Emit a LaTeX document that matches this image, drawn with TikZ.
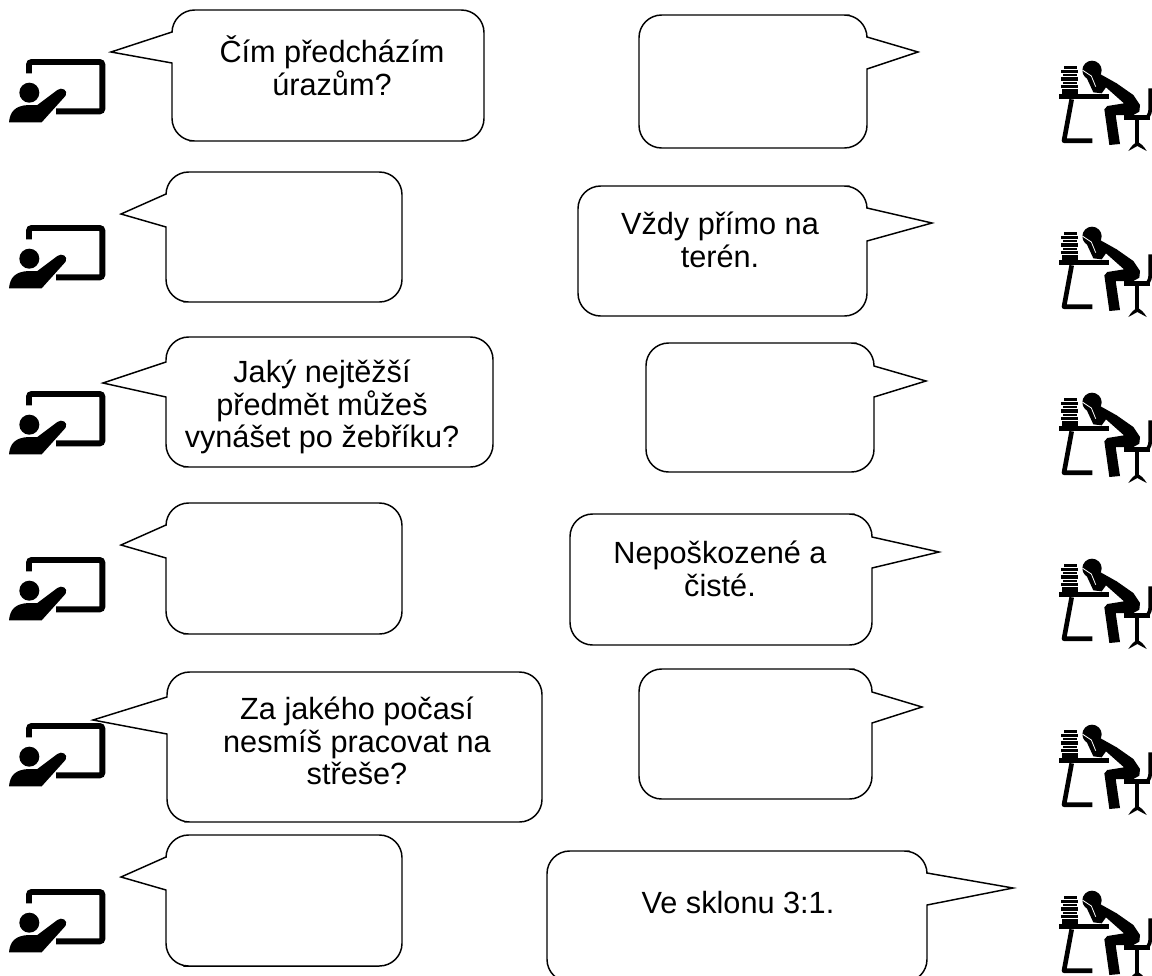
\documentclass[tikz,border=0pt]{standalone}
\usepackage{fontspec}
\setmainfont{Liberation Sans}
\tikzset{
  x=0.75pt,y=-0.75pt,
  bubble/.style={draw=black,line width=1.1pt,fill=white,line join=miter},
  bubtext/.style={align=center,font=\fontsize{23}{24.4}\selectfont,inner sep=0pt},
  teacher/.pic={
    \begin{scope}[x=0.25pt,y=-0.25pt]
      \draw[line width=4.4pt,rounded corners=2pt] (87,100) -- (87,66) -- (307,66) -- (307,214) -- (168,214);
      \fill (88,158) circle[radius=30];
      \fill (27,247) .. controls (30,215) and (45,197) .. (85,195) -- (112,195) -- (172,150)
        .. controls (185,140) and (205,150) .. (197,167) -- (125,247) -- cycle;
    \end{scope}
  },
  student/.pic={
    \begin{scope}[x=0.25pt,y=-0.25pt]
      \fill (27,133) rectangle (178,148);
      \draw[line width=3.5pt,line join=round] (65,148) -- (42,272) -- (127,272);
      \fill (42,48) rectangle (82,56);
      \fill (34,60) rectangle (85,68);
      \fill (38,71) rectangle (80,79);
      \fill (34,82) rectangle (85,92);
      \fill (38,95) rectangle (82,103);
      \fill (34,106) rectangle (85,114);
      \fill (37,117) rectangle (85,133);
      \fill (126,61) circle[radius=29];
      \fill (150,72) -- (200,100) -- (250,135) -- (270,165) -- (268,185) -- (250,195) -- (197,195)
        -- (210,282) -- (178,285) -- (163,178) -- (172,168) -- (222,160) -- (168,112) -- (155,130)
        -- (130,127) -- (106,75) -- cycle;
      \draw[white,line width=.6pt] (97,60) -- (124,78) -- (137,110);
      \fill (222,194) rectangle (300,210);
      \draw[line width=2.8pt,rounded corners=3pt] (301,115) -- (301,190) -- (290,205);
      \draw[line width=3.2pt] (262,205) -- (262,280);
      \fill (235,303) .. controls (245,285) and (255,280) .. (262,275) .. controls (270,280) and (280,285) .. (290,303) -- (262,288) -- cycle;
    \end{scope}
  }
}
% \lbub{x1}{y1}{x2}{y2}{tip}{att1}{att2}
\newcommand{\lbub}[7]{%
  \draw[bubble,rounded corners=17pt] ({#1+40},#4) -- (#3,#4) -- (#3,#2) -- (#1,#2) [sharp corners] -- (#1,#6) -- (#5) -- (#1,#7) [rounded corners=17pt] -- (#1,#4) -- cycle;
}
\newcommand{\rbub}[7]{%
  \draw[bubble,rounded corners=17pt] ({#3-40},#2) -- (#1,#2) -- (#1,#4) -- (#3,#4) [sharp corners] -- (#3,#7) -- (#5) -- (#3,#6) [rounded corners=17pt] -- (#3,#2) -- cycle;
}
\begin{document}
\begin{tikzpicture}
\useasboundingbox (0,0) rectangle (1152,975);
\clip (0,0) rectangle (1152,975);
\fill[white] (0,0) rectangle (1152,975);
\foreach \yy in {40,206,372,538,704,870}{\pic at (0,\yy) {teacher};}
\foreach \yy in {50,216,382,548,714,880}{\pic at (1050,\yy) {student};}
\coordinate (t1) at (111,52); \coordinate (t2) at (121,214); \coordinate (t3) at (103,383);
\coordinate (t4) at (121,545); \coordinate (t5) at (93,720); \coordinate (t6) at (121,877);
\coordinate (r1) at (918,52); \coordinate (r2) at (932,223); \coordinate (r3) at (926,381);
\coordinate (r4) at (939,552); \coordinate (r5) at (922,707); \coordinate (r6) at (1013,888);
\lbub{172}{10}{484}{141}{t1}{32}{63}
\lbub{166}{172}{402}{302}{t2}{194}{227}
\lbub{166}{337}{493}{467}{t3}{362}{397}
\lbub{166}{503}{402}{634}{t4}{525}{558}
\lbub{167}{672}{542}{822}{t5}{697}{734}
\lbub{166}{835}{402}{966}{t6}{857}{890}
\rbub{639}{15}{867}{148}{r1}{37}{69}
\rbub{578}{186}{867}{316}{r2}{208}{241}
\rbub{646}{343}{874}{472}{r3}{366}{397}
\rbub{570}{514}{872}{645}{r4}{537}{568}
\rbub{639}{669}{872}{799}{r5}{692}{723}
\rbub{547}{851}{927}{982}{r6}{873}{905}
\node[bubtext] (a1) at (332,66) {Čím předcházím\\úrazům?};
\node[bubtext] (a3) at (322,407) {Jaký nejtěžší\\předmět můžeš\\vynášet po žebříku?};
\node[bubtext] (a5) at (357,741) {Za jakého počasí\\nesmíš pracovat na\\střeše?};
\node[bubtext] (b2) at (720,240) {Vždy přímo na\\terén.};
\node[bubtext] (b4) at (720,569) {Nepoškozené a\\čisté.};
\node[bubtext] (b6) at (738,903) {Ve sklonu 3:1.};
\end{tikzpicture}
\end{document}
